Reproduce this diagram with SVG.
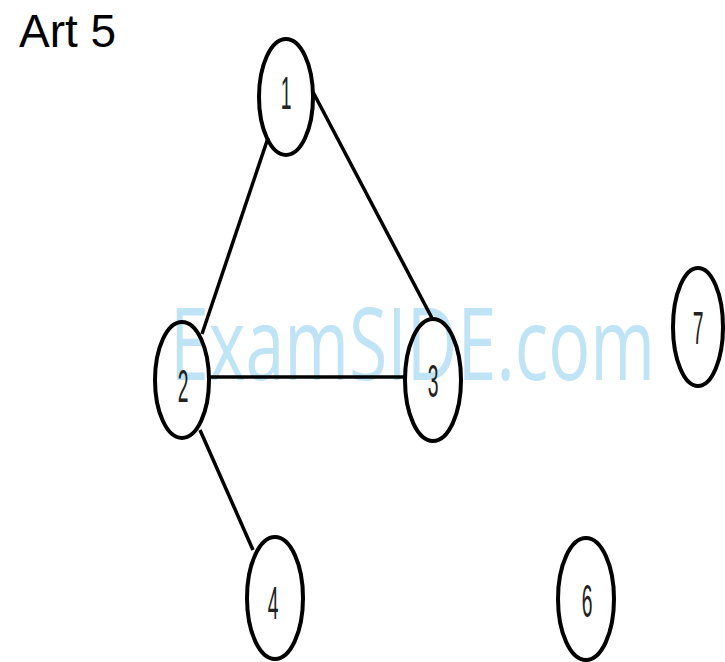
<svg xmlns="http://www.w3.org/2000/svg" width="725" height="662" viewBox="0 0 725 662">
<style>
.node ellipse{fill:none;stroke:#000;stroke-width:4}
.node text{font-family:"Liberation Sans",Arial,sans-serif;font-size:46px;fill:#222;text-anchor:middle}
.edge{stroke:#000;stroke-width:3.5;fill:none}
</style>
<rect width="725" height="662" fill="#fff"/>
<text x="19" y="47" font-family="Liberation Sans,Arial,sans-serif" font-size="46" fill="#000">Art 5</text>
<text x="170" y="380" font-family="Open Sans,Liberation Sans,sans-serif" font-size="100" fill="#bfe4f6" textLength="485" lengthAdjust="spacingAndGlyphs">ExamSIDE.com</text>
<g id="connectors">
<line class="edge" x1="268" y1="138" x2="202" y2="334"/>
<line class="edge" x1="313" y1="92" x2="433" y2="320"/>
<line class="edge" x1="208" y1="377" x2="406" y2="377" stroke-width="6"/>
<line class="edge" x1="200" y1="430" x2="253" y2="550"/>
</g>
<g id="node1" class="node"><ellipse cx="286" cy="97" rx="27" ry="58"/><text transform="translate(286,109) scale(0.42,1)">1</text></g>
<g id="node2" class="node"><ellipse cx="182" cy="380" rx="27" ry="58"/><text transform="translate(183,402) scale(0.42,1)">2</text></g>
<g id="node3" class="node"><ellipse cx="433" cy="380" rx="28" ry="61"/><text transform="translate(433,397) scale(0.42,1)">3</text></g>
<g id="node7" class="node"><ellipse cx="698" cy="327" rx="25" ry="59"/><text transform="translate(698,344) scale(0.42,1)">7</text></g>
<g id="node4" class="node"><ellipse cx="275" cy="598" rx="28" ry="61"/><text transform="translate(273,619) scale(0.42,1)">4</text></g>
<g id="node6" class="node"><ellipse cx="586" cy="599" rx="28" ry="61"/><text transform="translate(587,617) scale(0.42,1)">6</text></g>
</svg>
